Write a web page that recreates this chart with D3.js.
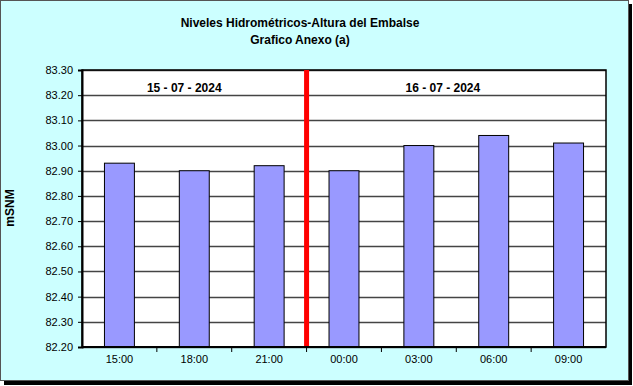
<!DOCTYPE html>
<html>
<head>
<meta charset="utf-8">
<script src="https://cdn.jsdelivr.net/npm/d3@7"></script>
<style>
  body { margin: 0; background: #fff; }
  text { font-family: "Liberation Sans", Arial, sans-serif; }
</style>
</head>
<body>
<svg id="chart" width="633" height="386"></svg>
<script>
// data
var horas = ["15:00", "18:00", "21:00", "00:00", "03:00", "06:00", "09:00"];
var niveles = [82.93, 82.90, 82.92, 82.90, 83.00, 83.04, 83.01];
var yTicks = [82.20, 82.30, 82.40, 82.50, 82.60, 82.70, 82.80, 82.90, 83.00, 83.10, 83.20, 83.30];
var fechas = ["15 - 07 - 2024", "16 - 07 - 2024"];
var titulo = ["Niveles Hidrométricos-Altura del Embalse", "Grafico Anexo (a)"];

var svg = d3.select("#chart");
var margin = {top: 70, right: 27, bottom: 39, left: 82};
var width = 633 - margin.left - margin.right;
var height = 386 - margin.top - margin.bottom;

// shadow + chart frame
svg.append("rect").attr("x", 4).attr("y", 4).attr("width", 628).attr("height", 381).attr("fill", "#000");
svg.append("rect").attr("x", 0.5).attr("y", 0.5).attr("width", 628).attr("height", 380)
    .attr("fill", "#ccffff").attr("stroke", "#555").attr("stroke-width", 1);

// title
svg.selectAll(".titulo").data(titulo).enter().append("text")
    .attr("class", "titulo")
    .attr("x", 300).attr("y", (d, i) => 27 + i * 17)
    .attr("text-anchor", "middle")
    .attr("font-size", "12px").attr("font-weight", "bold")
    .text(d => d);

var g = svg.append("g").attr("transform", "translate(" + margin.left + "," + margin.top + ")");

var xScale = d3.scaleBand().domain(horas).range([0, width]).padding(0);
var yScale = d3.scaleLinear().domain([82.20, 83.30]).range([height, 0]);

g.append("rect").attr("width", width).attr("height", height).attr("fill", "#fff");

// grid
g.selectAll(".grid").data(yTicks).enter().append("line")
    .attr("class", "grid")
    .attr("x1", 0).attr("x2", width)
    .attr("y1", d => Math.round(yScale(d)) + 0.5).attr("y2", d => Math.round(yScale(d)) + 0.5)
    .attr("stroke", "#444").attr("stroke-width", 1.5);

// bars
var barW = xScale.bandwidth() * 0.4;
g.selectAll(".bars").data(niveles).enter().append("rect")
    .attr("class", "bars")
    .attr("x", (d, i) => xScale(horas[i]) + (xScale.bandwidth() - barW) / 2)
    .attr("y", d => yScale(d))
    .attr("width", barW)
    .attr("height", d => height - yScale(d))
    .attr("fill", "#9999ff").attr("stroke", "#000").attr("stroke-width", 1);

// plot border
g.append("rect").attr("width", width).attr("height", height)
    .attr("fill", "none").attr("stroke", "#000").attr("stroke-width", 1.5);

// red divider between days
var xDiv = xScale("00:00");
g.append("line").attr("x1", xDiv).attr("x2", xDiv).attr("y1", 0).attr("y2", height)
    .attr("stroke", "#ff0000").attr("stroke-width", 5);

// date labels
var fechaX = [xScale("18:00") + xScale.bandwidth() / 2 - 10, xScale("03:00") + xScale.bandwidth() / 2 + 24];
g.selectAll(".fechas").data(fechas).enter().append("text")
    .attr("class", "fechas")
    .attr("x", (d, i) => fechaX[i]).attr("y", 22)
    .attr("text-anchor", "middle")
    .attr("font-size", "12px").attr("font-weight", "bold")
    .text(d => d);

// y axis
var yAxis = d3.axisLeft(yScale).tickValues(yTicks).tickSize(4).tickFormat(d3.format(".2f"));
var yG = g.append("g").call(yAxis);
yG.select(".domain").attr("stroke-width", 2);
yG.selectAll("text").attr("font-size", "11px").attr("fill", "#000")
    .attr("font-family", "'Liberation Sans', Arial, sans-serif").attr("dx", "-2");

// x axis: ticks on band boundaries
var xG = g.append("g").attr("transform", "translate(0," + height + ")");
xG.append("line").attr("x1", 0).attr("x2", width).attr("stroke", "#000").attr("stroke-width", 2);
xG.selectAll(".xtick").data(horas.slice(1)).enter().append("line")
    .attr("class", "xtick")
    .attr("x1", d => xScale(d)).attr("x2", d => xScale(d))
    .attr("y1", 0).attr("y2", 5).attr("stroke", "#000");
xG.selectAll(".xlab").data(horas).enter().append("text")
    .attr("class", "xlab")
    .attr("x", d => xScale(d) + xScale.bandwidth() / 2).attr("y", 16)
    .attr("text-anchor", "middle").attr("font-size", "11px")
    .text(d => d);

// y label
svg.append("text")
    .attr("transform", "translate(14,208) rotate(-90)")
    .attr("text-anchor", "middle")
    .attr("font-size", "12px").attr("font-weight", "bold")
    .text("mSNM");
</script>
</body>
</html>
